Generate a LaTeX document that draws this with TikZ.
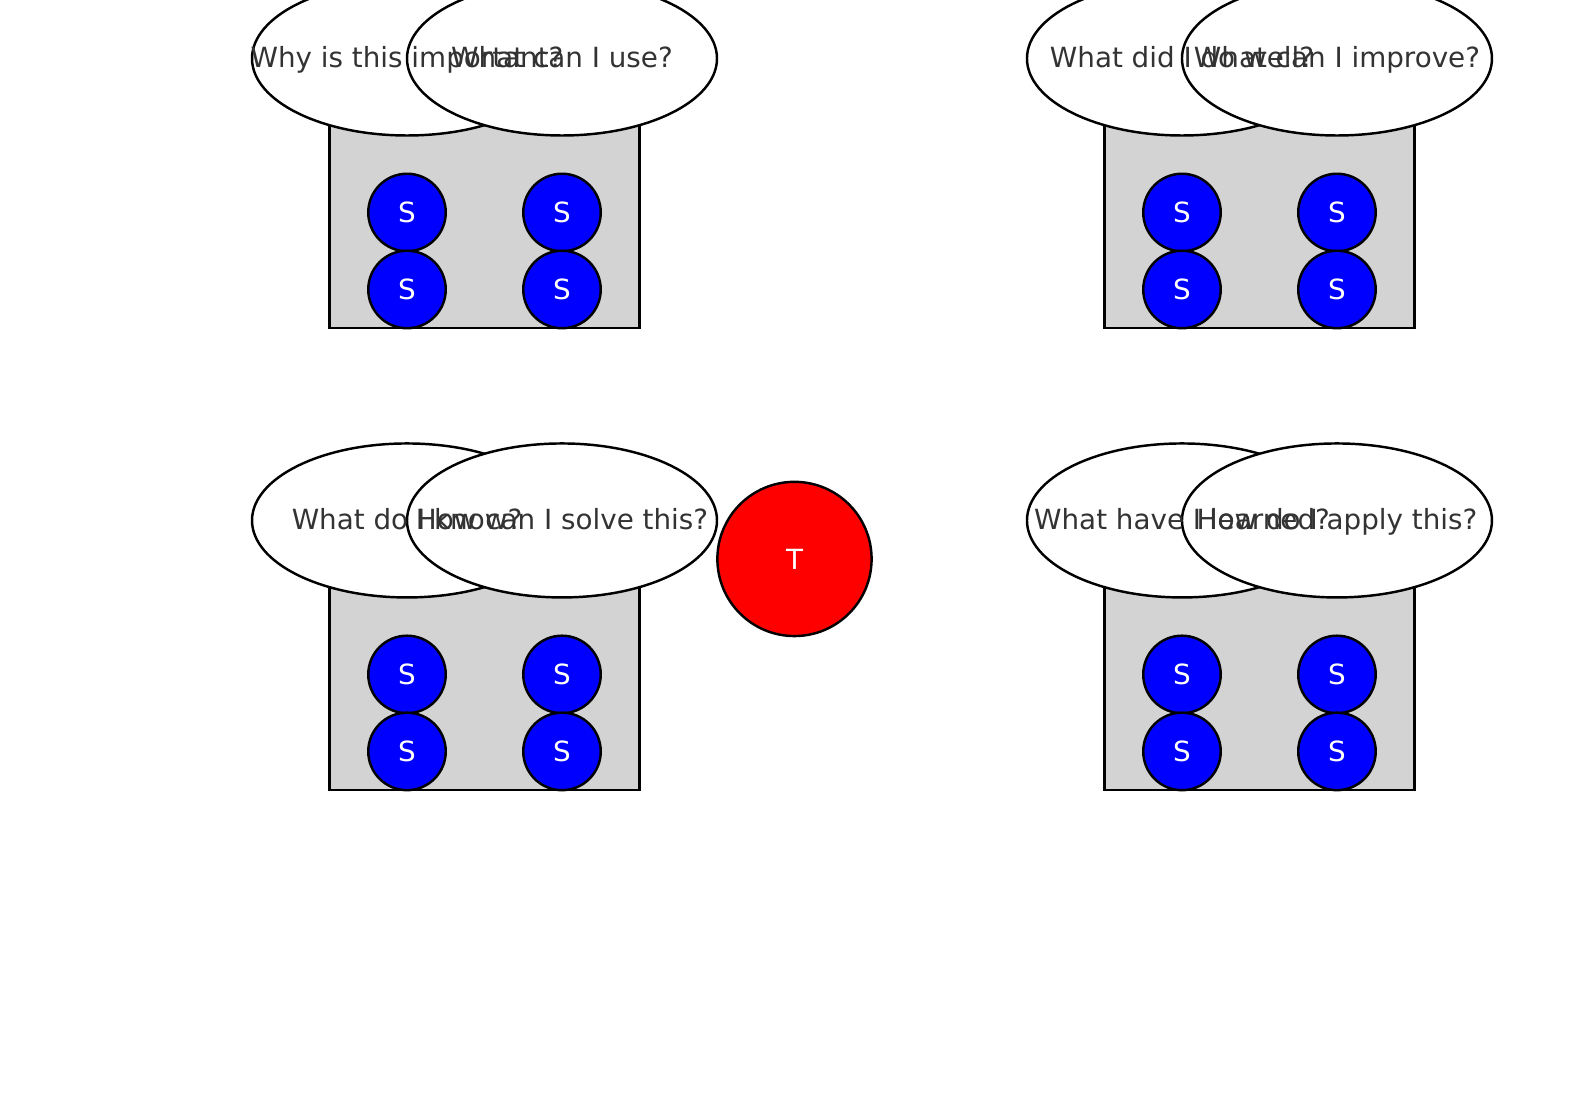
\documentclass[tikz,border=0pt]{standalone}
\usepackage{fontspec}
\setmainfont{DejaVu Sans}
\usetikzlibrary{shapes.geometric}
\definecolor{txt}{HTML}{333333}
\definecolor{boxgray}{HTML}{D3D3D3}
\tikzset{
  outl/.style={draw=black, line width=0.9pt},
  table/.style={outl, fill=boxgray, rectangle, inner sep=0pt, minimum width=4cm, minimum height=3.974cm},
  bubble/.style={outl, fill=white, ellipse, inner sep=0pt, minimum width=4cm, minimum height=1.987cm},
  student/.style={outl, fill=blue, circle, inner sep=0pt, minimum size=1cm, text=white, font=\fontsize{10.2}{12}\selectfont},
  teacher/.style={outl, fill=red, circle, inner sep=0pt, minimum size=1.99cm, text=white, font=\fontsize{10.2}{12}\selectfont},
  qtext/.style={text=txt, inner sep=0pt, anchor=base, yshift=-0.115cm, font=\fontsize{10.2}{12}\selectfont}
}
\begin{document}
\begin{tikzpicture}[x=1cm, y=0.9935cm]
\useasboundingbox (-10.252,-7.26) rectangle (10.252,7.26);
\clip (-10.252,-7.26) rectangle (10.252,7.26);
% tables
\node[table] (tab1) at (-4,5) {};
\node[table] (tab2) at (6,5) {};
\node[table] (tab3) at (-4,-1) {};
\node[table] (tab4) at (6,-1) {};
% bubbles
\node[bubble] (b1a) at (-5,6.5) {};
\node[bubble] (b1b) at (-3,6.5) {};
\node[bubble] (b2a) at (5,6.5) {};
\node[bubble] (b2b) at (7,6.5) {};
\node[bubble] (b3a) at (-5,0.5) {};
\node[bubble] (b3b) at (-3,0.5) {};
\node[bubble] (b4a) at (5,0.5) {};
\node[bubble] (b4b) at (7,0.5) {};
% students
\node[student] (s1a) at (-5,4.5) {S};
\node[student] (s1b) at (-3,4.5) {S};
\node[student] (s1c) at (-5,3.5) {S};
\node[student] (s1d) at (-3,3.5) {S};
\node[student] (s2a) at (5,4.5) {S};
\node[student] (s2b) at (7,4.5) {S};
\node[student] (s2c) at (5,3.5) {S};
\node[student] (s2d) at (7,3.5) {S};
\node[student] (s3a) at (-5,-1.5) {S};
\node[student] (s3b) at (-3,-1.5) {S};
\node[student] (s3c) at (-5,-2.5) {S};
\node[student] (s3d) at (-3,-2.5) {S};
\node[student] (s4a) at (5,-1.5) {S};
\node[student] (s4b) at (7,-1.5) {S};
\node[student] (s4c) at (5,-2.5) {S};
\node[student] (s4d) at (7,-2.5) {S};
% teacher
\node[teacher] (t) at (0,0) {T};
% questions
\node[qtext] (q1a) at (b1a.center) {Why is this important?};
\node[qtext] (q1b) at (b1b.center) {What can I use?};
\node[qtext] (q2a) at (b2a.center) {What did I do well?};
\node[qtext] (q2b) at (b2b.center) {What can I improve?};
\node[qtext] (q3a) at (b3a.center) {What do I know?};
\node[qtext] (q3b) at (b3b.center) {How can I solve this?};
\node[qtext] (q4a) at (b4a.center) {What have I learned?};
\node[qtext] (q4b) at (b4b.center) {How do I apply this?};
\end{tikzpicture}
\end{document}
